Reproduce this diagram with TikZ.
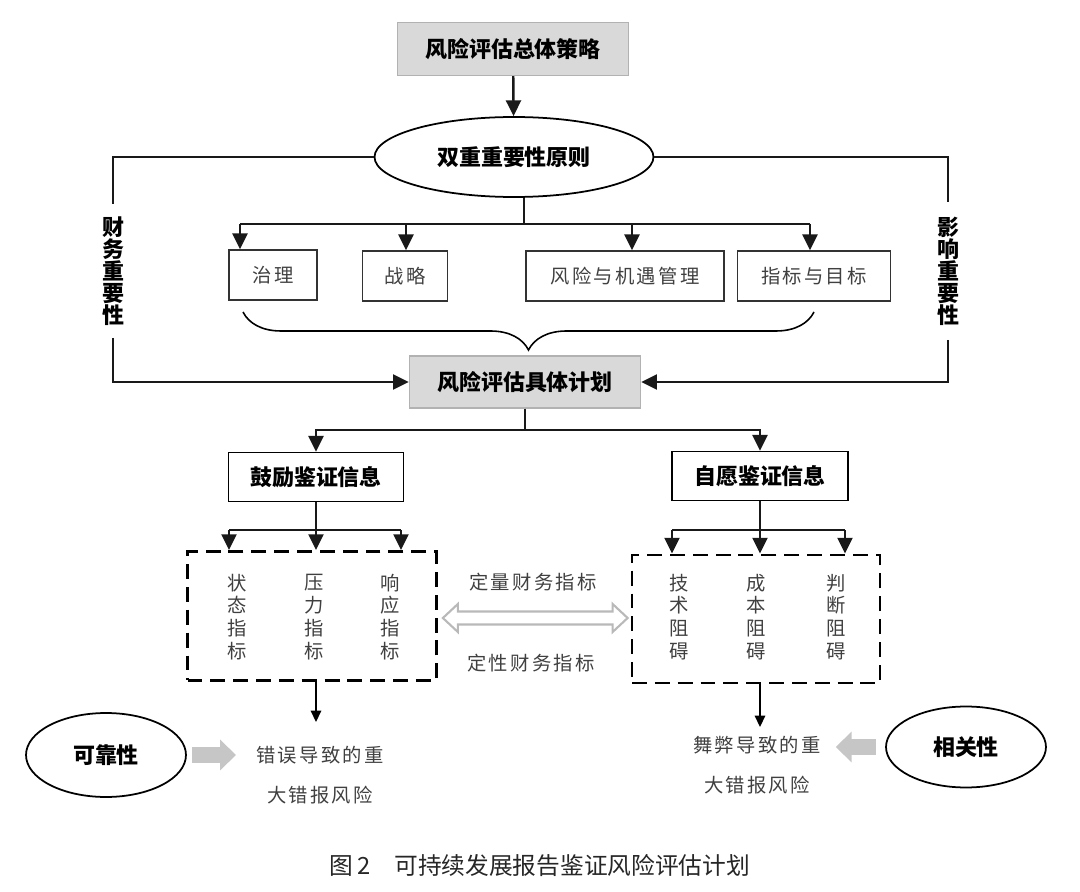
\documentclass[tikz,border=0pt]{standalone}
\usepackage{fontspec}
\setmainfont{Noto Sans CJK SC}
\newfontfamily\lightcjk{Noto Sans CJK SC}[LetterSpace=12]
\usepackage{xcolor}
\usetikzlibrary{arrows.meta, positioning, calc, shapes, decorations.pathreplacing}

\begin{document}
\begin{tikzpicture}[
    x=0.02cm, y=-0.02cm,
    line/.style={line width=1.4pt, draw=black!90},
    arr/.style={line, -{Triangle[length=9pt,width=8.5pt]}},
    thinarr/.style={line width=0.9pt, -{Triangle[length=6.5pt,width=6pt]}},
    graybox/.style={draw=gray!60, line width=0.8pt, fill=gray!30, minimum width=4.62cm, minimum height=1.06cm, font=\bfseries\fontsize{12.5}{14}\selectfont},
    keybox/.style={draw, line width=0.9pt, minimum height=0.98cm, font=\bfseries\fontsize{12.5}{14}\selectfont},
    subbox/.style={draw=black!80, line width=0.8pt, minimum height=1cm, font=\lightcjk\fontsize{11}{13}\selectfont, text=black!75},
    dashbox/.style={draw, line width=1.6pt, dash pattern=on 8.5pt off 4.5pt},
    oval/.style={draw, ellipse, line width=1pt, inner sep=0pt, font=\bfseries\fontsize{12.5}{14}\selectfont},
    vlabel/.style={align=center, inner sep=0pt, font=\bfseries\fontsize{12.5}{12.5}\selectfont},
    vtext/.style={align=center, inner sep=0pt, font=\fontsize{11}{13}\selectfont, text=black!75},
    note/.style={align=center, font=\lightcjk\fontsize{11}{22.7}\selectfont, text=black!75},
    hollow/.style={draw=gray!55, line width=1.2pt, line join=miter},
    block/.style={draw=gray!45, line width=9pt, -{Triangle[length=9pt,width=17pt]}}
]
    \useasboundingbox (0,0) rectangle (1080,892);

    % upper part
    \node[graybox] (top) at (513,49) {风险评估总体策略};
    \node[oval, minimum width=5.58cm, minimum height=1.6cm] (dual) at (514,157) {双重重要性原则};
    \node[vlabel, minimum height=2.66cm] (fin) at (113,271) {财\\务\\重\\要\\性};
    \node[vlabel, minimum height=2.74cm] (imp) at (948,271) {影\\响\\重\\要\\性};
    \node[subbox, minimum width=1.76cm] (gov) at (273,275) {治理};
    \node[subbox, minimum width=1.7cm] (stra) at (405,276) {战略};
    \node[subbox, minimum width=3.96cm] (risk) at (625,276) {风险与机遇管理};
    \node[subbox, minimum width=3.06cm] (metr) at (814,276) {指标与目标};
    \node[graybox, minimum height=1.04cm] (plan) at (525,382) {风险评估具体计划};

    \draw[arr] (top) -- (dual);
    \draw[line] (dual.west) -| (fin.north);
    \draw[arr] (fin.south) |- (plan.west);
    \draw[line] (dual.east) -| (imp.north);
    \draw[arr] (imp.south) |- (plan.east);

    \coordinate (trunk) at (524,224);
    \coordinate (t1) at (240,224);
    \coordinate (t2) at (406,224);
    \coordinate (t3) at (632,224);
    \coordinate (t4) at (810,224);
    \draw[line] (dual.south -| trunk) -- (trunk);
    \draw[line] (t1) -- (t4);
    \draw[arr] (t1) -- (t1 |- gov.north);
    \draw[arr] (t2) -- (t2 |- stra.north);
    \draw[arr] (t3) -- (t3 |- risk.north);
    \draw[arr] (t4) -- (t4 |- metr.north);

    \coordinate (bl) at (243,312);
    \coordinate (br) at (814,312);
    \draw[line width=0.9pt, decorate, decoration={brace, amplitude=0.76cm}] (br) -- (bl);

    % lower part
    \node[keybox, minimum width=3.5cm] (enc) at (316,477) {鼓励鉴证信息};
    \node[keybox, minimum width=3.52cm] (vol) at (760,476) {自愿鉴证信息};
    \node[dashbox, minimum width=4.98cm, minimum height=2.58cm] (dl) at (312,616) {};
    \node[dashbox, minimum width=4.96cm, minimum height=2.56cm] (dr) at (756,619) {};

    \node[vtext] (st) at (237,617) {状\\态\\指\\标};
    \node[vtext] (pr) at (314,617) {压\\力\\指\\标};
    \node[vtext] (re) at (390,617) {响\\应\\指\\标};
    \node[vtext] (te) at (679,617) {技\\术\\阻\\碍};
    \node[vtext] (co) at (756,617) {成\\本\\阻\\碍};
    \node[vtext] (ju) at (836,617) {判\\断\\阻\\碍};

    \node[note] (quan) at (533,582) {定量财务指标};
    \node[note] (qual) at (531,663) {定性财务指标};

    \coordinate (pb) at (525,430);
    \draw[line] (plan.south) -- (pb);
    \draw[arr] (pb) -| (enc.north);
    \draw[arr] (pb) -| (vol.north);

    \coordinate (eb) at (316,530);
    \coordinate (e1) at (229,530);
    \coordinate (e3) at (401,530);
    \draw[line] (enc.south) -- (eb);
    \draw[line] (e1) -- (e3);
    \draw[arr] (e1) -- (e1 |- dl.north);
    \draw[arr] (eb) -- (eb |- dl.north);
    \draw[arr] (e3) -- (e3 |- dl.north);

    \coordinate (vb) at (760,530);
    \coordinate (v1) at (672,530);
    \coordinate (v3) at (845,530);
    \draw[line] (vol.south) -- (vb);
    \draw[line] (v1) -- (v3);
    \draw[arr] (v1) -- (v1 |- dr.north);
    \draw[arr] (vb) -- (vb |- dr.north);
    \draw[arr] (v3) -- (v3 |- dr.north);

    % hollow double arrow
    \coordinate (da) at ($(dl.east)+(5,2)$);
    \coordinate (db) at ($(dr.west)+(-3,-1)$);
    \draw[hollow] (da) -- ++(15,-14) -- ++(0,7.5) -- ($(db)+(-15,-6.5)$) -- ++(0,-7.5) -- (db)
        -- ++(-15,14) -- ++(0,-7.5) -- ($(da)+(15,6.5)$) -- ++(0,7.5) -- cycle;

    % bottom
    \node[oval, minimum width=3.2cm, minimum height=1.68cm] (reli) at (106,755) {可靠性};
    \node[oval, minimum width=3.2cm, minimum height=1.62cm] (rele) at (966,747) {相关性};
    \node[note] (err) at (320,775) {错误导致的重\\大错报风险};
    \node[note] (fra) at (757,765) {舞弊导致的重\\大错报风险};

    \coordinate (ea) at (316,722);
    \coordinate (fa) at (760,727);
    \draw[thinarr] (eb |- dl.south) -- (ea);
    \draw[thinarr] (vb |- dr.south) -- (fa);

    \draw[block, shorten <=3pt, shorten >=8pt] (reli.east) -- (reli.east -| err.west);
    \draw[block, shorten <=5pt, shorten >=5pt] (rele.west) -- (rele.west -| fra.east);

    \node[font=\fontsize{13.5}{16}\selectfont, text=black!85] (cap) at (540,866) {图\,2\quad 可持续发展报告鉴证风险评估计划};
\end{tikzpicture}
\end{document}
